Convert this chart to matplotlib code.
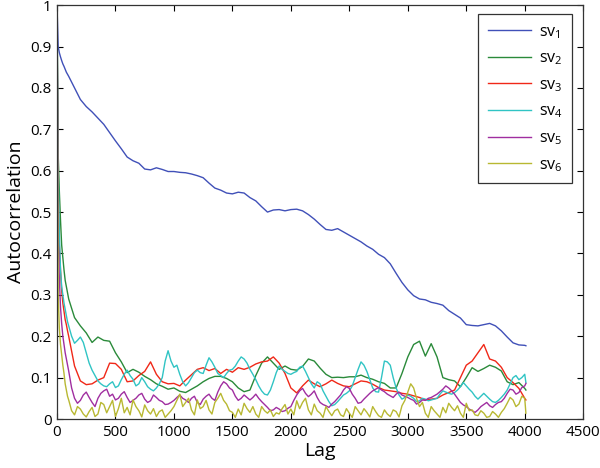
import numpy as np
import matplotlib
matplotlib.use("Agg")
import matplotlib.pyplot as plt

# lag positions: coarse grid (sv1-sv3) and fine grid (sv4-sv6)
lags = ([0, 10, 20, 30, 40, 50, 60, 70, 80, 90]
        + list(range(100, 4001, 50)) + [4010])
lags_fine = ([0, 10, 20, 30, 40, 50, 60, 70, 80, 90]
             + list(range(100, 4001, 25)) + [4010])

sv1 = [1.0, 0.90, 0.885, 0.875, 0.866, 0.858, 0.852, 0.845, 0.838, 0.833,
       0.828, 0.80, 0.772, 0.755, 0.742, 0.727, 0.712, 0.692, 0.672, 0.653,
       0.633, 0.624, 0.618, 0.604, 0.602, 0.607, 0.603, 0.598, 0.598, 0.596,
       0.595, 0.592, 0.588, 0.583, 0.57, 0.558, 0.553, 0.546, 0.544, 0.548,
       0.546, 0.535, 0.527, 0.513, 0.50, 0.505, 0.506, 0.503, 0.506, 0.507,
       0.503, 0.494, 0.483, 0.47, 0.458, 0.456, 0.46, 0.452, 0.444, 0.436,
       0.428, 0.418, 0.41, 0.398, 0.39, 0.375, 0.352, 0.33, 0.312, 0.298,
       0.29, 0.288, 0.282, 0.279, 0.275, 0.262, 0.253, 0.244, 0.228, 0.226,
       0.225, 0.228, 0.231, 0.225, 0.213, 0.198, 0.184, 0.179,
       0.178, 0.177]

sv2 = [1.0, 0.64, 0.55, 0.48, 0.42, 0.39, 0.36, 0.335, 0.32, 0.305,
       0.29, 0.245, 0.225, 0.208, 0.185, 0.198, 0.19, 0.188, 0.16, 0.138,
       0.112, 0.12, 0.113, 0.103, 0.095, 0.085, 0.079, 0.072, 0.075, 0.067,
       0.064, 0.072, 0.08, 0.09, 0.098, 0.103, 0.103, 0.098, 0.09, 0.075,
       0.066, 0.07, 0.105, 0.135, 0.15, 0.135, 0.12, 0.128, 0.12, 0.118,
       0.127, 0.145, 0.14, 0.123, 0.108, 0.1, 0.101, 0.1, 0.102, 0.102,
       0.106, 0.1, 0.096, 0.09, 0.086, 0.075, 0.075, 0.11, 0.15, 0.18,
       0.188, 0.152, 0.182, 0.15, 0.1, 0.095, 0.092, 0.078, 0.1, 0.124,
       0.115, 0.122, 0.13, 0.125, 0.116, 0.09, 0.083, 0.088,
       0.074, 0.07]

sv3 = [1.0, 0.55, 0.42, 0.36, 0.31, 0.28, 0.26, 0.24, 0.228, 0.213,
       0.2, 0.128, 0.092, 0.083, 0.085, 0.094, 0.1, 0.135, 0.134, 0.12,
       0.09, 0.092, 0.105, 0.115, 0.138, 0.108, 0.09, 0.085, 0.086, 0.08,
       0.094, 0.107, 0.12, 0.124, 0.117, 0.122, 0.11, 0.12, 0.113, 0.124,
       0.12, 0.125, 0.133, 0.138, 0.14, 0.15, 0.135, 0.11, 0.075, 0.063,
       0.08, 0.094, 0.085, 0.078, 0.085, 0.094, 0.086, 0.08, 0.078, 0.085,
       0.092, 0.09, 0.084, 0.076, 0.07, 0.068, 0.066, 0.062, 0.06, 0.056,
       0.052, 0.046, 0.048, 0.05, 0.058, 0.064, 0.07, 0.1, 0.13, 0.14,
       0.16, 0.18, 0.145, 0.14, 0.125, 0.1, 0.088, 0.074,
       0.05, 0.046]

sv4 = [1.0, 0.6, 0.45, 0.36, 0.32, 0.3, 0.28, 0.265, 0.25, 0.235,
       # 100 - 275
       0.225, 0.2, 0.183, 0.19, 0.198, 0.185, 0.16, 0.135,
       # 300 - 475
       0.118, 0.105, 0.092, 0.085, 0.08, 0.078, 0.085, 0.09,
       # 500 - 675
       0.076, 0.08, 0.095, 0.108, 0.118, 0.105, 0.096, 0.08,
       # 700 - 875
       0.085, 0.1, 0.09, 0.078, 0.072, 0.068, 0.075, 0.085,
       # 900 - 1075
       0.1, 0.14, 0.165, 0.14, 0.125, 0.13, 0.108, 0.09,
       # 1100 - 1275
       0.08, 0.088, 0.1, 0.112, 0.118, 0.112, 0.11, 0.13,
       # 1300 - 1475
       0.148, 0.138, 0.125, 0.11, 0.105, 0.1, 0.11, 0.118,
       # 1500 - 1675
       0.12, 0.128, 0.14, 0.15, 0.145, 0.135, 0.12, 0.108,
       # 1700 - 1875
       0.095, 0.08, 0.068, 0.06, 0.058, 0.07, 0.09, 0.112,
       # 1900 - 2075
       0.128, 0.12, 0.115, 0.11, 0.108, 0.112, 0.115, 0.125,
       # 2100 - 2275
       0.128, 0.115, 0.1, 0.085, 0.075, 0.09, 0.085, 0.068,
       # 2300 - 2475
       0.055, 0.042, 0.032, 0.035, 0.042, 0.05, 0.058, 0.062,
       # 2500 - 2675
       0.068, 0.08, 0.1, 0.12, 0.138, 0.13, 0.115, 0.095,
       # 2700 - 2875
       0.075, 0.066, 0.065, 0.1, 0.14, 0.138, 0.13, 0.1,
       # 2900 - 3075
       0.075, 0.058, 0.048, 0.052, 0.058, 0.055, 0.05, 0.042,
       # 3100 - 3275
       0.044, 0.05, 0.048, 0.044, 0.046, 0.048, 0.05, 0.06,
       # 3300 - 3475
       0.068, 0.065, 0.062, 0.06, 0.064, 0.07, 0.078, 0.088,
       # 3500 - 3675
       0.08, 0.072, 0.065, 0.055, 0.048, 0.055, 0.062, 0.055,
       # 3700 - 3875
       0.048, 0.042, 0.04, 0.045, 0.052, 0.06, 0.07, 0.085,
       # 3900 - 3975
       0.1, 0.105, 0.095, 0.1,
       # 4000, 4010
       0.108, 0.088]

sv5 = [1.0, 0.45, 0.34, 0.27, 0.23, 0.2, 0.18, 0.16, 0.145, 0.13,
       0.116, 0.075, 0.05, 0.038, 0.045, 0.058, 0.065, 0.052,
       0.04, 0.03, 0.05, 0.062, 0.068, 0.072, 0.055, 0.06,
       0.046, 0.05, 0.06, 0.066, 0.052, 0.04, 0.045, 0.05,
       0.058, 0.062, 0.048, 0.04, 0.044, 0.058, 0.052, 0.045,
       0.042, 0.035, 0.036, 0.04, 0.045, 0.052, 0.058, 0.05,
       0.046, 0.04, 0.05, 0.055, 0.04, 0.035, 0.048, 0.055,
       0.06, 0.05, 0.045, 0.065, 0.08, 0.09, 0.085, 0.075,
       0.07, 0.055, 0.045, 0.05, 0.058, 0.052, 0.046, 0.052,
       0.06, 0.05, 0.042, 0.035, 0.028, 0.02, 0.022, 0.028,
       0.024, 0.018, 0.02, 0.026, 0.03, 0.045, 0.058, 0.068,
       0.074, 0.062, 0.054, 0.06, 0.068, 0.052, 0.04, 0.035,
       0.032, 0.028, 0.036, 0.042, 0.05, 0.058, 0.07, 0.078,
       0.074, 0.06, 0.05, 0.038, 0.04, 0.048, 0.055, 0.062,
       0.068, 0.072, 0.076, 0.07, 0.066, 0.06, 0.056, 0.052,
       0.06, 0.065, 0.058, 0.055, 0.052, 0.048, 0.045, 0.036,
       0.04, 0.046, 0.045, 0.05, 0.052, 0.056, 0.06, 0.066,
       0.072, 0.08, 0.075, 0.068, 0.06, 0.05, 0.04, 0.034,
       0.03, 0.024, 0.02, 0.016, 0.022, 0.03, 0.035, 0.04,
       0.032, 0.028, 0.035, 0.04, 0.042, 0.05, 0.062, 0.072,
       0.07, 0.06, 0.064, 0.076,
       0.08, 0.086]

sv6 = [1.0, 0.3, 0.22, 0.18, 0.155, 0.13, 0.11, 0.085, 0.07, 0.055,
       0.046, 0.02, 0.01, 0.03, 0.024, 0.012, 0.005, 0.018,
       0.028, 0.006, 0.012, 0.04, 0.035, 0.015, 0.03, 0.045,
       0.006, 0.025, 0.05, 0.015, 0.028, 0.01, 0.046, 0.03,
       0.02, 0.005, 0.034, 0.02, 0.012, 0.025, 0.006, 0.018,
       0.022, 0.004, 0.012, 0.02, 0.03, 0.045, 0.06, 0.03,
       0.04, 0.05, 0.022, 0.01, 0.046, 0.025, 0.03, 0.045,
       0.022, 0.012, 0.04, 0.05, 0.062, 0.045, 0.036, 0.02,
       0.016, 0.004, 0.024, 0.01, 0.038, 0.025, 0.016, 0.03,
       0.012, 0.004, 0.03, 0.02, 0.014, 0.022, 0.006, 0.015,
       0.012, 0.025, 0.035, 0.012, 0.024, 0.01, 0.044, 0.025,
       0.04, 0.05, 0.022, 0.01, 0.036, 0.02, 0.014, 0.004,
       0.03, 0.018, 0.008, 0.02, 0.024, 0.01, 0.006, 0.025,
       0.014, 0.004, 0.03, 0.02, 0.01, 0.025, 0.016, 0.005,
       0.03, 0.018, 0.008, 0.004, 0.022, 0.012, 0.006, 0.022,
       0.018, 0.005, 0.032, 0.045, 0.065, 0.085, 0.075, 0.05,
       0.03, 0.04, 0.014, 0.004, 0.03, 0.02, 0.012, 0.004,
       0.028, 0.015, 0.038, 0.028, 0.02, 0.032, 0.014, 0.004,
       0.038, 0.02, 0.022, 0.01, 0.008, 0.02, 0.014, 0.004,
       0.006, 0.018, 0.012, 0.004, 0.016, 0.025, 0.038, 0.052,
       0.046, 0.03, 0.036, 0.055,
       0.05, 0.014]

labels = [r"sv$_{1}$", r"sv$_{2}$", r"sv$_{3}$",
          r"sv$_{4}$", r"sv$_{5}$", r"sv$_{6}$"]
colors = ["#4050b8", "#2a8a3a", "#f02818", "#30c4c4", "#a02ea0", "#b8b832"]

plt.rcParams["font.family"] = ["Open Sans", "DejaVu Sans"]
plt.rcParams["mathtext.fontset"] = "custom"
plt.rcParams["mathtext.rm"] = "Open Sans"

fig = plt.figure(figsize=(6.0, 4.68), dpi=100)
ax = fig.add_axes([0.095, 0.1047, 0.877, 0.8843])

series = [(lags, sv1), (lags, sv2), (lags, sv3),
          (lags_fine, sv4), (lags_fine, sv5), (lags_fine, sv6)]
for (x, s), lab, c in zip(series, labels, colors):
    ax.plot(x, s, color=c, lw=1.0, label=lab)

ax.set_xlim(0, 4500)
ax.set_ylim(0, 1)
ax.set_xticks(np.arange(0, 4501, 500))
ax.set_yticks(np.arange(0, 1.01, 0.1))
ax.set_yticklabels(["0", "0.1", "0.2", "0.3", "0.4", "0.5", "0.6", "0.7",
                    "0.8", "0.9", "1"])
ax.tick_params(direction="in", top=True, right=True, length=4, width=0.8,
               labelsize=11, pad=4)
for sp in ax.spines.values():
    sp.set_color("#333333")
    sp.set_linewidth(0.9)
ax.set_xlabel("Lag", fontsize=14, labelpad=2)
ax.set_ylabel("Autocorrelation", fontsize=14, labelpad=4)

leg = ax.legend(loc="upper right", bbox_to_anchor=(0.979, 0.978),
                borderaxespad=0, fontsize=11.5, handlelength=2.7,
                labelspacing=0.62, fancybox=False, framealpha=1,
                edgecolor="#333333", borderpad=0.6, handletextpad=0.5)
leg.get_frame().set_linewidth(0.9)

fig.savefig("out.png", dpi=100)
